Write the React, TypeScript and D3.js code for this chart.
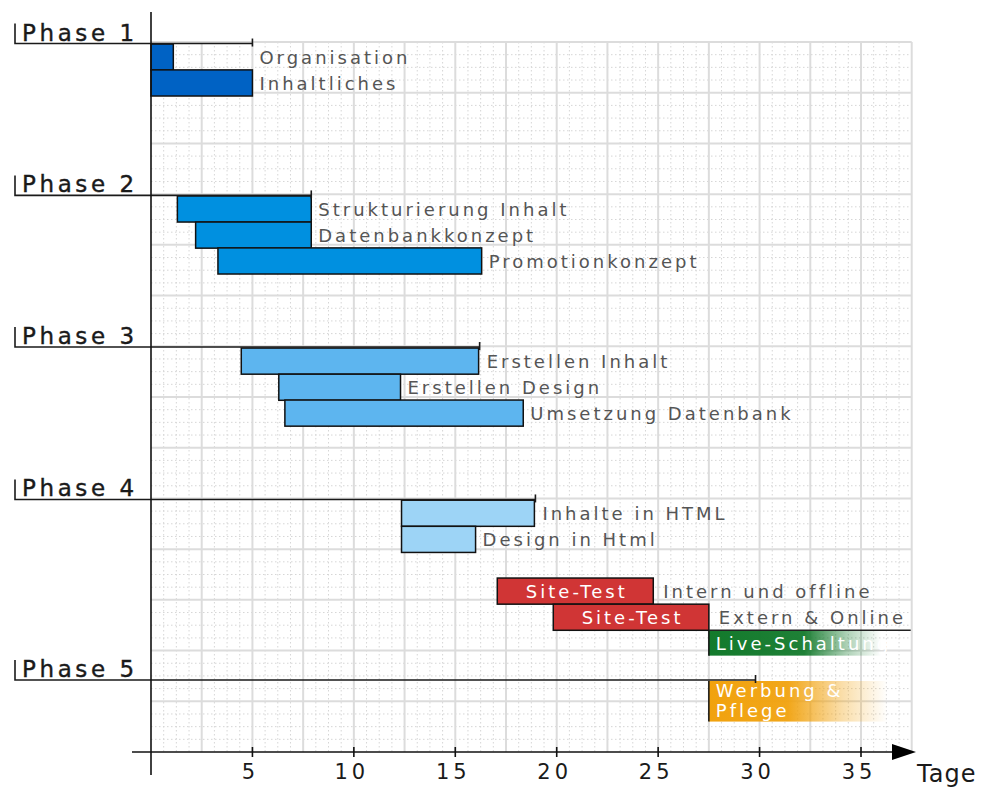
import { useEffect, useRef } from 'react';
import * as d3 from 'd3';

// axis ticks (days)
const dayTicks = [5, 10, 15, 20, 25, 30, 35];

// phases
const phaseNames = ['Phase 1', 'Phase 2', 'Phase 3', 'Phase 4', 'Phase 5'];
const phaseRows = [0.06, 6.05, 12.03, 18.04, 25.16];
const phaseEnds = [5, 7.9, 16.2, 18.95, 29.8];
const phaseColors = ['#0062c4', '#0090e0', '#5db5ef', '#9dd4f6'];

// regular tasks
const taskLabels = [
  'Organisation',
  'Inhaltliches',
  'Strukturierung Inhalt',
  'Datenbankkonzept',
  'Promotionkonzept',
  'Erstellen Inhalt',
  'Erstellen Design',
  'Umsetzung Datenbank',
  'Inhalte in HTML',
  'Design in Html',
];
const taskStarts = [0, 0, 1.3, 2.2, 3.3, 4.45, 6.3, 6.6, 12.35, 12.35];
const taskEnds = [1.1, 5, 7.9, 7.9, 16.3, 16.15, 12.3, 18.35, 18.9, 16];
const taskRows = [0.08, 1.1, 6.07, 7.1, 8.12, 12.07, 13.1, 14.12, 18.07, 19.1];
const taskPhase = [0, 0, 1, 1, 1, 2, 2, 2, 3, 3];

// site tests
const testLabels = ['Site-Test', 'Site-Test'];
const testNotes = ['Intern und offline', 'Extern & Online'];
const testStarts = [17.07, 19.83];
const testEnds = [24.76, 27.5];
const testRows = [21.14, 22.17];

// fading bars (open ended)
const fadeLabels = [['Live-Schaltung'], ['Werbung &', 'Pflege']];
const fadeStarts = [27.5, 27.5];
const fadeSolidEnds = [32.2, 31.4];
const fadeEnds = [36.0, 36.3];
const fadeRows = [23.2, 25.2];
const fadeRowEnds = [24.2, 26.8];
const fadeColors = ['#137a2c', '#f1a20e'];

const FONT = '"DejaVu Sans", Verdana, sans-serif';

export default function App() {
  const svgRef = useRef<SVGSVGElement>(null);

  useEffect(() => {
    if (!svgRef.current) return;
    const svg = d3.select(svgRef.current);
    svg.selectAll('*').remove();

    const x = d3.scaleLinear().domain([0, 35]).range([151, 861]);
    const y = d3.scaleLinear().domain([0, 28]).range([42, 752]);
    const barSpan = 1.03;
    const xMax = 37.5;

    // grid: minor dotted
    const grid = svg.append('g');
    const minorX = d3.range(0.625, xMax, 0.625).filter((d) => Math.abs(d / 2.5 - Math.round(d / 2.5)) > 0.01);
    const minorY = d3.range(0.5, 28, 0.5).filter((d) => d % 2 !== 0);
    grid
      .selectAll('line.mx')
      .data(minorX)
      .enter()
      .append('line')
      .attr('x1', (d) => x(d))
      .attr('x2', (d) => x(d))
      .attr('y1', y(0))
      .attr('y2', y(28))
      .attr('stroke', '#d6d6d6')
      .attr('stroke-width', 1)
      .attr('stroke-dasharray', '1.5,2.5');
    grid
      .selectAll('line.my')
      .data(minorY)
      .enter()
      .append('line')
      .attr('x1', x(0))
      .attr('x2', x(xMax))
      .attr('y1', (d) => y(d))
      .attr('y2', (d) => y(d))
      .attr('stroke', '#d6d6d6')
      .attr('stroke-width', 1)
      .attr('stroke-dasharray', '1.5,2.5');

    // grid: major solid
    grid
      .selectAll('line.Mx')
      .data(d3.range(2.5, xMax + 0.01, 2.5))
      .enter()
      .append('line')
      .attr('x1', (d) => x(d))
      .attr('x2', (d) => x(d))
      .attr('y1', y(0))
      .attr('y2', y(28))
      .attr('stroke', '#dcdcdc')
      .attr('stroke-width', 2);
    grid
      .selectAll('line.My')
      .data(d3.range(0, 28, 2))
      .enter()
      .append('line')
      .attr('x1', x(0))
      .attr('x2', x(xMax))
      .attr('y1', (d) => y(d))
      .attr('y2', (d) => y(d))
      .attr('stroke', '#dcdcdc')
      .attr('stroke-width', 2);

    // gradients for fading bars
    const defs = svg.append('defs');
    fadeColors.forEach((c, i) => {
      const g = defs
        .append('linearGradient')
        .attr('id', `fade-${i}`)
        .attr('gradientUnits', 'userSpaceOnUse')
        .attr('x1', x(fadeStarts[i]))
        .attr('x2', x(fadeEnds[i]))
        .attr('y1', 0)
        .attr('y2', 0);
      const solid = (fadeSolidEnds[i] - fadeStarts[i]) / (fadeEnds[i] - fadeStarts[i]);
      g.append('stop').attr('offset', 0).attr('stop-color', c).attr('stop-opacity', 1);
      g.append('stop').attr('offset', solid).attr('stop-color', c).attr('stop-opacity', 0.95);
      g.append('stop').attr('offset', solid + (1 - solid) * 0.55).attr('stop-color', c).attr('stop-opacity', 0.35);
      g.append('stop').attr('offset', 1).attr('stop-color', c).attr('stop-opacity', 0);
    });

    // task bars
    const bars = svg.append('g');
    taskLabels.forEach((label, i) => {
      const top = y(taskRows[i]);
      const h = y(taskRows[i] + barSpan) - top;
      bars
        .append('rect')
        .attr('x', x(taskStarts[i]))
        .attr('y', top)
        .attr('width', x(taskEnds[i]) - x(taskStarts[i]))
        .attr('height', h)
        .attr('fill', phaseColors[taskPhase[i]])
        .attr('stroke', '#111')
        .attr('stroke-width', 1.5);
      const p = taskPhase[i];
      const firstInPhase = taskPhase.indexOf(p) === i;
      const anchor = firstInPhase ? Math.max(taskEnds[i], phaseEnds[p]) : taskEnds[i];
      bars
        .append('text')
        .attr('x', x(anchor) + 7)
        .attr('y', top + h / 2 + 7)
        .attr('font-family', FONT)
        .attr('font-size', 18)
        .attr('letter-spacing', 3)
        .attr('fill', '#555')
        .text(label);
    });

    // site tests
    testLabels.forEach((label, i) => {
      const top = y(testRows[i]);
      const h = y(testRows[i] + barSpan) - top;
      const x0 = x(testStarts[i]);
      const x1 = x(testEnds[i]);
      bars
        .append('rect')
        .attr('x', x0)
        .attr('y', top)
        .attr('width', x1 - x0)
        .attr('height', h)
        .attr('fill', '#d03535')
        .attr('stroke', '#111')
        .attr('stroke-width', 1.5);
      bars
        .append('text')
        .attr('x', (x0 + x1) / 2 + 1.5)
        .attr('y', top + h / 2 + 7)
        .attr('text-anchor', 'middle')
        .attr('font-family', FONT)
        .attr('font-size', 18)
        .attr('letter-spacing', 3)
        .attr('fill', '#fff')
        .text(label);
      bars
        .append('text')
        .attr('x', x1 + 10)
        .attr('y', top + h / 2 + 7)
        .attr('font-family', FONT)
        .attr('font-size', 18)
        .attr('letter-spacing', 3)
        .attr('fill', '#555')
        .text(testNotes[i]);
    });

    // fading bars
    fadeLabels.forEach((lines, i) => {
      const top = y(fadeRows[i]);
      const bottom = y(fadeRowEnds[i]);
      const x0 = x(fadeStarts[i]);
      bars
        .append('rect')
        .attr('x', x0)
        .attr('y', top)
        .attr('width', x(fadeEnds[i]) - x0)
        .attr('height', bottom - top)
        .attr('fill', `url(#fade-${i})`);
      bars
        .append('line')
        .attr('x1', x0)
        .attr('x2', x0)
        .attr('y1', top)
        .attr('y2', bottom)
        .attr('stroke', '#111')
        .attr('stroke-width', 1.5);
      const lh = 20;
      const firstBase = lines.length === 1 ? top + (bottom - top) / 2 + 7 : top + 16;
      lines.forEach((t, j) => {
        bars
          .append('text')
          .attr('x', x0 + 7)
          .attr('y', firstBase + j * lh)
          .attr('font-family', FONT)
          .attr('font-size', 18)
          .attr('letter-spacing', 3)
          .attr('fill', '#fff')
          .text(t);
      });
    });

    // line under "Extern & Online"
    svg
      .append('line')
      .attr('x1', x(testEnds[1]))
      .attr('x2', x(xMax) - 1)
      .attr('y1', y(testRows[1] + barSpan))
      .attr('y2', y(testRows[1] + barSpan))
      .attr('stroke', '#222')
      .attr('stroke-width', 1.5);

    // phase lines and labels
    const ph = svg.append('g');
    phaseNames.forEach((name, i) => {
      const py = y(phaseRows[i]);
      ph.append('path')
        .attr('d', `M15,${py - 20}V${py}H${x(phaseEnds[i])}`)
        .attr('fill', 'none')
        .attr('stroke', '#1a1a1a')
        .attr('stroke-width', 1.6);
      ph.append('line')
        .attr('x1', x(phaseEnds[i]))
        .attr('x2', x(phaseEnds[i]))
        .attr('y1', py - 5)
        .attr('y2', py + 3)
        .attr('stroke', '#1a1a1a')
        .attr('stroke-width', 1.6);
      ph.append('text')
        .attr('x', 22)
        .attr('y', py - 3)
        .attr('font-family', FONT)
        .attr('font-size', 23)
        .attr('letter-spacing', 3.6)
        .attr('fill', '#1a1a1a')
        .attr('stroke', '#1a1a1a')
        .attr('stroke-width', 0.4)
        .text(name);
    });

    // axes
    const ax = svg.append('g');
    ax.append('line')
      .attr('x1', x(0))
      .attr('x2', x(0))
      .attr('y1', 12)
      .attr('y2', 775)
      .attr('stroke', '#111')
      .attr('stroke-width', 1.6);
    ax.append('line')
      .attr('x1', 132)
      .attr('x2', 895)
      .attr('y1', y(28))
      .attr('y2', y(28))
      .attr('stroke', '#111')
      .attr('stroke-width', 1.6);
    const ay = y(28);
    ax.append('path')
      .attr('d', `M892,${ay - 8}L916,${ay}L892,${ay + 8}Z`)
      .attr('fill', '#000');
    ax.selectAll('line.tick')
      .data(dayTicks)
      .enter()
      .append('line')
      .attr('x1', (d) => x(d))
      .attr('x2', (d) => x(d))
      .attr('y1', ay - 5)
      .attr('y2', ay + 5)
      .attr('stroke', '#111')
      .attr('stroke-width', 1.6);
    ax.selectAll('text.tick')
      .data(dayTicks)
      .enter()
      .append('text')
      .attr('x', (d) => x(d) - 2)
      .attr('y', ay + 27)
      .attr('text-anchor', 'middle')
      .attr('font-family', FONT)
      .attr('font-size', 21)
      .attr('letter-spacing', 4)
      .attr('fill', '#1a1a1a')
      .text((d) => String(d));
    ax.append('text')
      .attr('x', 917)
      .attr('y', ay + 30)
      .attr('font-family', FONT)
      .attr('font-size', 24)
      .attr('letter-spacing', 1)
      .attr('fill', '#1a1a1a')
      .text('Tage');
  }, []);

  return (
    <div style={{ position: 'absolute', left: 0, top: 0, background: '#fff' }}>
      <svg ref={svgRef} width={985} height={788} style={{ display: 'block' }}></svg>
    </div>
  );
}
